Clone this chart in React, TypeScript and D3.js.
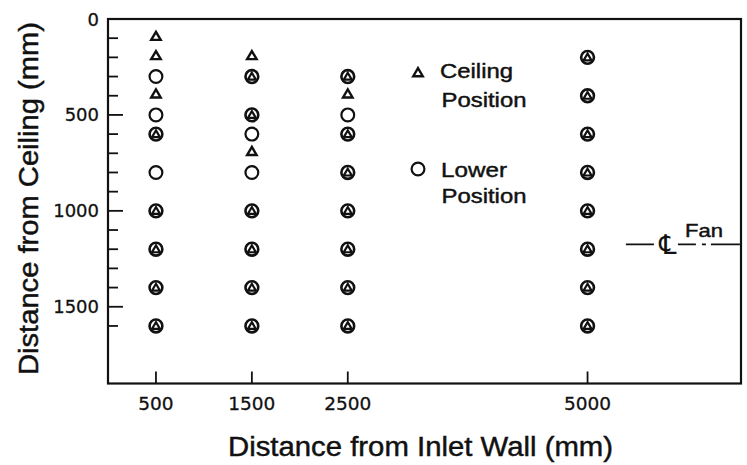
import React from "react";
import * as d3 from "d3";

// measurement columns (distance from inlet wall, mm)
const columns = [500, 1500, 2500, 5000];

// depths below ceiling (mm) for each column
const ceilingDepths: number[][] = [
  [100, 200, 400, 600, 1000, 1200, 1400, 1600],
  [200, 300, 500, 700, 1000, 1200, 1400, 1600],
  [300, 400, 600, 800, 1000, 1200, 1400, 1600],
  [200, 400, 600, 800, 1000, 1200, 1400, 1600],
];
const lowerDepths: number[][] = [
  [300, 500, 600, 800, 1000, 1200, 1400, 1600],
  [300, 500, 600, 800, 1000, 1200, 1400, 1600],
  [300, 500, 600, 800, 1000, 1200, 1400, 1600],
  [200, 400, 600, 800, 1000, 1200, 1400, 1600],
];

const yMajorTicks = [0, 500, 1000, 1500];
const yMinorTicks = d3.range(100, 1700, 100);
const fanDepth = 1175;

const W = 747;
const H = 465;
const FONT = "'Liberation Sans', Arial, Helvetica, sans-serif";
const NUMFONT = "'DejaVu Sans', sans-serif";
const INK = "#111";

const x = d3.scaleLinear().domain([0, 6600]).range([108, 741]);
const y = d3.scaleLinear().domain([0, 1900]).range([19, 383.5]);

function triPath(cx: number, cy: number, s: number) {
  const h = s * 0.85;
  return `M${cx},${cy - h * 0.6}L${cx + s / 2},${cy + h * 0.4}L${cx - s / 2},${cy + h * 0.4}Z`;
}

// thin outline on text so it reads as heavy as the printed original
const heavy = { stroke: INK, strokeWidth: 0.45 };

const App: React.FC = () => {
  const left = x(0);
  const right = x(6600);
  const top = y(0);
  const bottom = y(1900);

  return (
    <svg
      width={W}
      height={H}
      style={{ position: "absolute", left: 0, top: 0, background: "#fff" }}
      fontFamily={FONT}
    >
      {/* frame */}
      <rect x={left} y={top} width={right - left} height={bottom - top} fill="none" stroke={INK} strokeWidth={2.2} />

      {/* y ticks */}
      {yMinorTicks.map(t => (
        <line key={"m" + t} x1={left} x2={left + (t % 500 === 0 ? 15 : 10)} y1={y(t)} y2={y(t)} stroke={INK} strokeWidth={1.8} />
      ))}
      {yMajorTicks.map(t => (
        <text key={"yl" + t} x={99} y={y(t)} dy={6.5} textAnchor="end" fontFamily={NUMFONT} fontSize={18} fill={INK} {...heavy} strokeWidth={0.3}>
          {t}
        </text>
      ))}

      {/* x ticks */}
      {columns.map(c => (
        <g key={"xt" + c}>
          <line x1={x(c)} x2={x(c)} y1={bottom} y2={bottom - 12} stroke={INK} strokeWidth={1.8} />
          <text x={x(c)} y={410} textAnchor="middle" fontFamily={NUMFONT} fontSize={18.5} fill={INK} {...heavy} strokeWidth={0.3}>
            {c}
          </text>
        </g>
      ))}

      {/* axis titles */}
      <text x={228} y={456} fontSize={27} textLength={385} lengthAdjust="spacingAndGlyphs" fill={INK} {...heavy}>
        Distance from Inlet Wall (mm)
      </text>
      <text
        transform={`translate(38,375) rotate(-90)`}
        fontSize={27}
        textLength={353}
        lengthAdjust="spacingAndGlyphs"
        fill={INK}
        {...heavy}
      >
        Distance from Ceiling (mm)
      </text>

      {/* points */}
      {columns.map((c, i) => {
        const cx = x(c);
        const both = ceilingDepths[i].filter(d => lowerDepths[i].includes(d));
        return (
          <g key={"col" + c}>
            {lowerDepths[i].map(d => (
              <circle
                key={"c" + d}
                cx={cx}
                cy={y(d)}
                r={6.4}
                fill="none"
                stroke={INK}
                strokeWidth={both.includes(d) ? 2.6 : 2.2}
              />
            ))}
            {ceilingDepths[i].map(d =>
              both.includes(d) ? (
                <path key={"t" + d} d={triPath(cx, y(d) + 0.3, 8)} fill="none" stroke={INK} strokeWidth={2.2} strokeLinejoin="miter" />
              ) : (
                <path key={"t" + d} d={triPath(cx, y(d) - 1.5, 9.5)} fill="none" stroke={INK} strokeWidth={2.4} strokeLinejoin="miter" />
              )
            )}
          </g>
        );
      })}

      {/* legend */}
      <path d={triPath(418, 73, 9.5)} fill="none" stroke={INK} strokeWidth={2.4} />
      <text x={440} y={78} fontSize={21} textLength={73} lengthAdjust="spacingAndGlyphs" fill={INK} {...heavy}>Ceiling</text>
      <text x={441.5} y={107} fontSize={21} textLength={85} lengthAdjust="spacingAndGlyphs" fill={INK} {...heavy}>Position</text>
      <circle cx={418} cy={169} r={6.4} fill="none" stroke={INK} strokeWidth={2.2} />
      <text x={441} y={177} fontSize={21} textLength={66} lengthAdjust="spacingAndGlyphs" fill={INK} {...heavy}>Lower</text>
      <text x={441.5} y={203} fontSize={21} textLength={85} lengthAdjust="spacingAndGlyphs" fill={INK} {...heavy}>Position</text>

      {/* fan centreline */}
      <line
        x1={x(5400)}
        x2={right}
        y1={y(fanDepth)}
        y2={y(fanDepth)}
        stroke={INK}
        strokeWidth={1.8}
        strokeDasharray="28,24,18,6,4,5,29"
      />
      <rect x={659} y={234} width={18} height={22} fill="#fff" />
      <text x={668} y={254} textAnchor="middle" fontFamily={NUMFONT} fontSize={27} fill={INK}>℄</text>
      <text x={685} y={237} fontSize={19} textLength={38} lengthAdjust="spacingAndGlyphs" fill={INK} {...heavy}>Fan</text>
    </svg>
  );
};

export default App;
